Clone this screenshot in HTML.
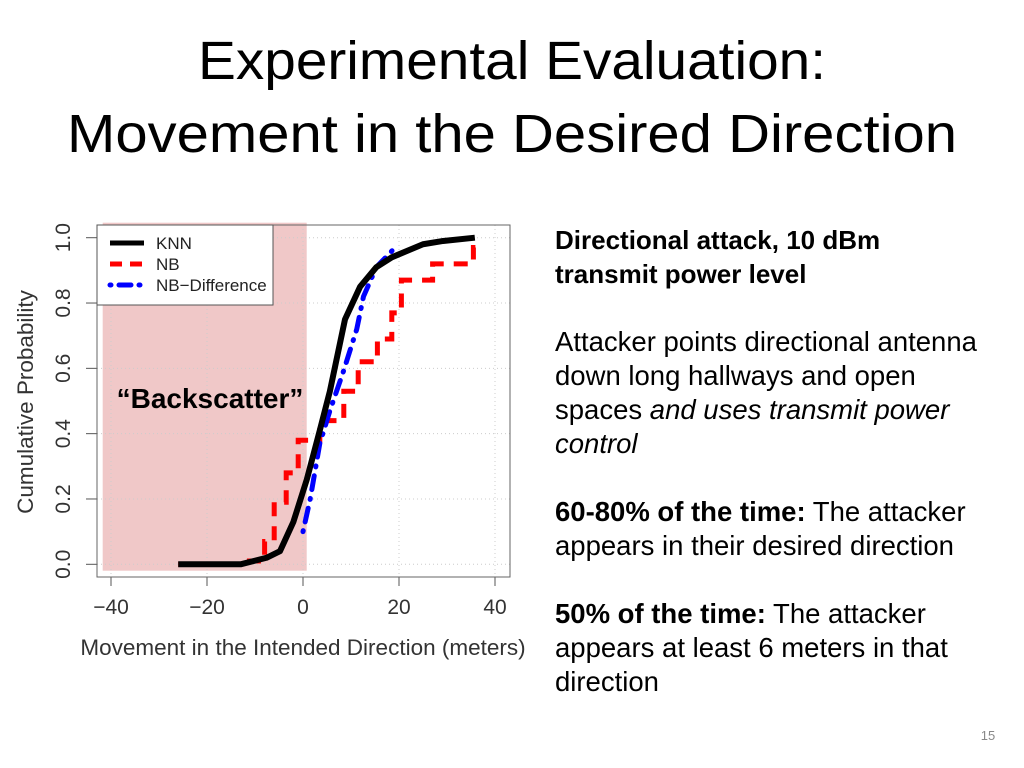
<!DOCTYPE html>
<html><head><meta charset="utf-8"><style>
html,body{margin:0;padding:0;background:#fff;}
body{width:1024px;height:768px;position:relative;overflow:hidden;font-family:"Liberation Sans",sans-serif;}
.t{position:absolute;left:555px;font-size:27.5px;line-height:34px;color:#000;white-space:nowrap;}
</style></head><body>
<svg width="1024" height="768" style="position:absolute;left:0;top:0">
<text x="512" y="79" text-anchor="middle" font-size="54" textLength="628" lengthAdjust="spacingAndGlyphs" font-family="Liberation Sans,sans-serif">Experimental Evaluation:</text>
<text x="512" y="152" text-anchor="middle" font-size="54" textLength="890" lengthAdjust="spacingAndGlyphs" font-family="Liberation Sans,sans-serif">Movement in the Desired Direction</text>
<g id="chart"></g>
<text x="988" y="740" text-anchor="middle" font-size="13" fill="#888" font-family="Liberation Sans,sans-serif">15</text>
</svg>
<div class="t" style="top:223px;font-weight:bold;font-size:26px">Directional attack, 10 dBm<br>transmit power level</div>
<div class="t" style="top:325px">Attacker points directional antenna<br>down long hallways and open<br>spaces <i>and uses transmit power</i><br><i>control</i></div>
<div class="t" style="top:495px"><b>60-80% of the time:</b> The attacker<br>appears in their desired direction</div>
<div class="t" style="top:597px"><b>50% of the time:</b> The attacker<br>appears at least 6 meters in that<br>direction</div>
<script>
const xTicks=[-40,-20,0,20,40];
const yTicks=[0,0.2,0.4,0.6,0.8,1.0];
const yTickLabels=["0.0","0.2","0.4","0.6","0.8","1.0"];
const knnX=[-26,-13,-7.6,-4.8,-2,0.8,3.5,5.6,8.75,11.9,15.3,18.5,25,29.2,35.8];
const knnY=[0,0,0.02,0.04,0.13,0.26,0.41,0.53,0.75,0.85,0.91,0.94,0.98,0.99,1.0];
const nbX=[-26,-13,-8,-6,-3.5,-1,3.5,8.5,11.5,15.5,18.5,20.5,27,35.5,36];
const nbY=[0,0.01,0.07,0.19,0.28,0.38,0.44,0.53,0.62,0.69,0.77,0.87,0.92,0.97,0.98];
const nbdX=[0,1.5,3.5,5.6,8.4,11.2,12.6,15.3,19.2];
const nbdY=[0.1,0.2,0.37,0.47,0.59,0.72,0.82,0.91,0.97];
const X=v=>303+v*4.8, Y=p=>564.3-p*326.6;
const NS="http://www.w3.org/2000/svg", g=document.getElementById('chart');
function mk(t,a,p){const e=document.createElementNS(NS,t);for(const k in a)e.setAttribute(k,a[k]);(p||g).appendChild(e);return e;}
let e;
e=mk('rect',{x:102.7,y:222.7,width:204,height:348,fill:'#f0c8c8'});


xTicks.forEach(v=>{e=mk('line',{x1:X(v),x2:X(v),y1:225,y2:577,stroke:'#ccc','stroke-dasharray':'1 3'});


e=mk('line',{x1:X(v),x2:X(v),y1:577,y2:586,stroke:'#555'});


e=mk('text',{x:X(v),y:614,'text-anchor':'middle','font-size':21,fill:'#333','font-family':'Liberation Sans,sans-serif'});e.textContent=(v<0?'\u2212'+(-v):v);

});
yTicks.forEach((v,i)=>{e=mk('line',{x1:97,x2:510,y1:Y(v),y2:Y(v),stroke:'#ccc','stroke-dasharray':'1 3'});


e=mk('line',{x1:86,x2:97,y1:Y(v),y2:Y(v),stroke:'#555'});


e=mk('text',{x:0,y:0,transform:`translate(70,${Y(v)}) rotate(-90)`,'text-anchor':'middle','font-size':21,fill:'#333','font-family':'Liberation Sans,sans-serif'});e.textContent=yTickLabels[i];

});
e=mk('rect',{x:97,y:225,width:413,height:352,fill:'none',stroke:'#666'});


e=mk('text',{x:0,y:0,transform:'translate(33,402) rotate(-90)','text-anchor':'middle','font-size':22.5,fill:'#333','font-family':'Liberation Sans,sans-serif'});e.textContent='Cumulative Probability';


e=mk('text',{x:303,y:655,'text-anchor':'middle','font-size':22.5,fill:'#333','font-family':'Liberation Sans,sans-serif'});e.textContent='Movement in the Intended Direction (meters)';


function pts(xs,ys){return xs.map((x,i)=>X(x)+','+Y(ys[i])).join(' ');}
function step(xs,ys){let s=[];xs.forEach((x,i)=>{if(i>0)s.push(X(x)+','+Y(ys[i-1]));s.push(X(x)+','+Y(ys[i]));});return s.join(' ');}
e=mk('polyline',{points:step(nbX,nbY),fill:'none',stroke:'#f00','stroke-width':5,'stroke-dasharray':'14 10'});


e=mk('polyline',{points:pts(nbdX,nbdY),fill:'none',stroke:'#00f','stroke-width':5,'stroke-dasharray':'1 9 14 9','stroke-linecap':'round'});


e=mk('polyline',{points:pts(knnX,knnY),fill:'none',stroke:'#000','stroke-width':6,'stroke-linejoin':'round'});


e=mk('rect',{x:97,y:225,width:176,height:80,fill:'#fff',stroke:'#555'});


[['KNN','#000','none',243],['NB','#f00','12 8',264],['NB\u2212Difference','#00f','1 8 12 8',285]].forEach(([n,c,d,y])=>{
e=mk('line',{x1:110,x2:144,y1:y,y2:y,stroke:c,'stroke-width':5,'stroke-dasharray':d,'stroke-linecap':n==='NB\u2212Difference'?'round':'butt'});


e=mk('text',{x:156,y:y+6,'font-size':17,fill:'#222','font-family':'Liberation Sans,sans-serif'});e.textContent=n;

});
e=mk('text',{x:210,y:408,'text-anchor':'middle','font-size':28,'font-weight':'bold','font-family':'Liberation Sans,sans-serif'});e.textContent='\u201cBackscatter\u201d';


</script>
</body></html>
